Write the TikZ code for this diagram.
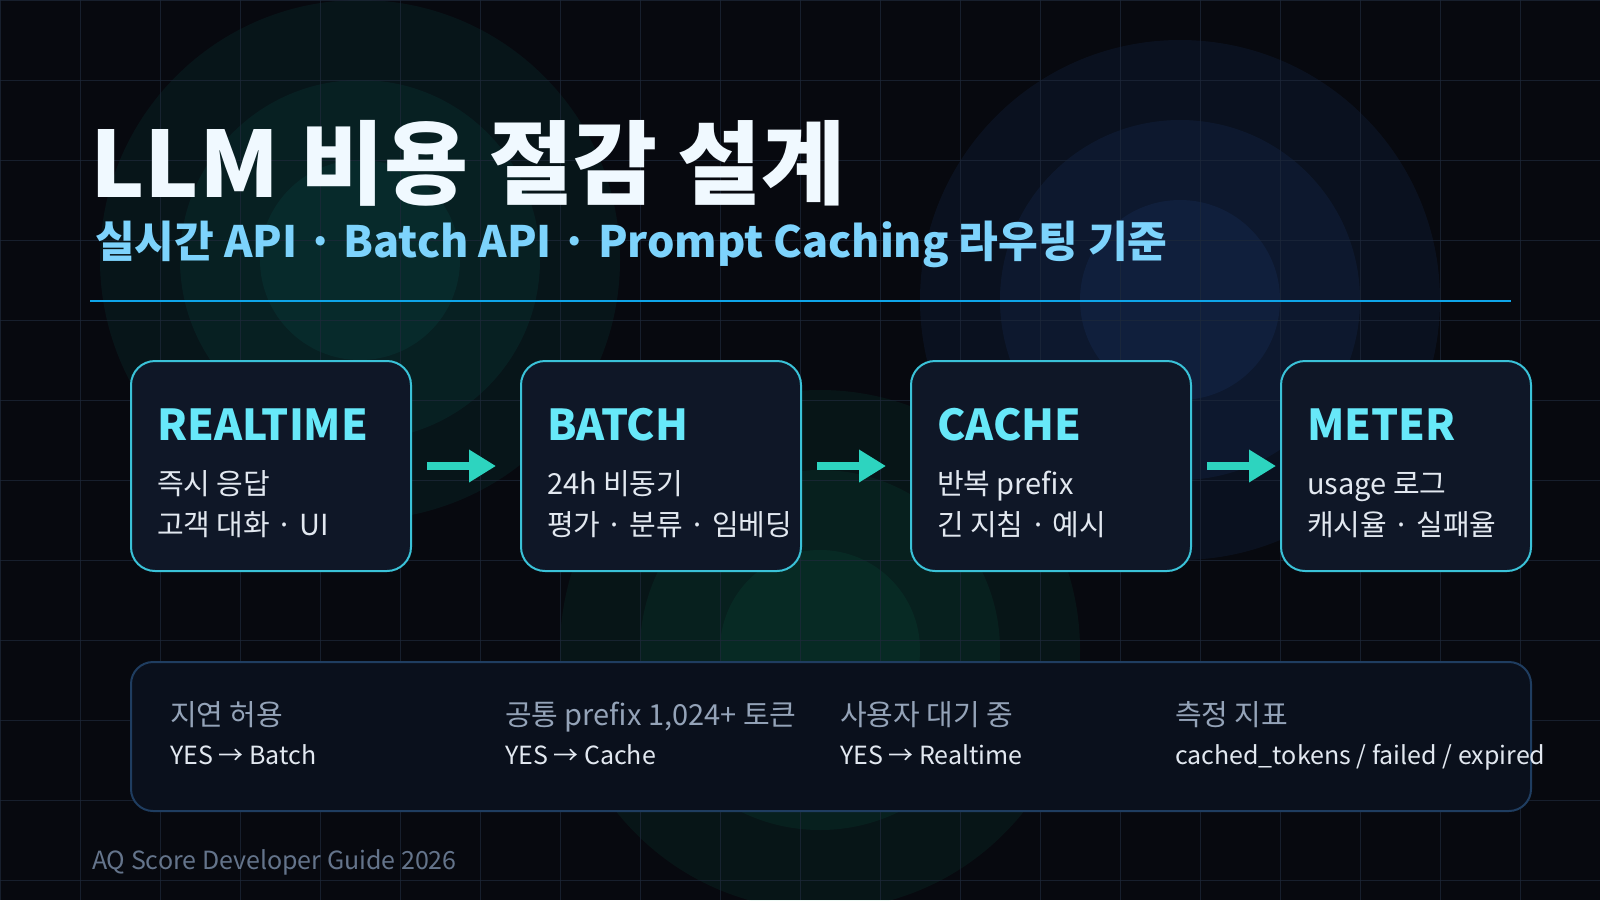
\documentclass[tikz,border=0pt]{standalone}
\usepackage{fontspec}
\setmainfont{Noto Sans CJK KR}
\usetikzlibrary{arrows.meta}
\definecolor{bg}{HTML}{07090F}
\definecolor{gridc}{HTML}{1E293B}
\definecolor{tealc}{HTML}{14B8A6}
\definecolor{greenc}{HTML}{10B981}
\definecolor{bluec}{HTML}{3B82F6}
\definecolor{titlec}{HTML}{F0F9FF}
\definecolor{subc}{HTML}{7DD3FC}
\definecolor{rulec}{HTML}{0EA5E9}
\definecolor{boxfill}{HTML}{0F1727}
\definecolor{boxline}{HTML}{3AC2D8}
\definecolor{boxtitle}{HTML}{67E8F9}
\definecolor{boxtext}{HTML}{E2E8F0}
\definecolor{arrowc}{HTML}{2DD4BF}
\definecolor{panelfill}{HTML}{0A101C}
\definecolor{panelline}{HTML}{1F3D60}
\definecolor{labelc}{HTML}{94A3B8}
\definecolor{valuec}{HTML}{E2E8F0}
\definecolor{footc}{HTML}{64748B}
\tikzset{
  glow/.style={fill=#1, fill opacity=0.07, draw=none},
  stagebox/.style={draw=boxline, line width=2pt, fill=boxfill, rounded corners=24pt,
    minimum width=280pt, minimum height=210pt, anchor=north west, inner sep=0pt},
  txt/.style={anchor=base west, inner sep=0pt, outer sep=0pt},
  stitle/.style={txt, text=boxtitle, font=\fontsize{42.6}{50}\selectfont\bfseries},
  sline/.style={txt, text=boxtext, font=\fontsize{29}{33}\selectfont},
  plabel/.style={txt, text=labelc, font=\fontsize{29}{33}\selectfont},
  pvalue/.style={txt, text=valuec, font=\fontsize{25}{30}\selectfont},
  flow/.style={draw=arrowc, line width=8pt, -{Triangle[length=27pt,width=31pt]}}
}
\begin{document}
\begin{tikzpicture}[x=1pt,y=-1pt]
\useasboundingbox (0,0) rectangle (1600,900);
\fill[bg] (0,0) rectangle (1600,900);
% glows
\foreach \r in {260,180,100} {
  \fill[glow=tealc] (360,260) circle[radius=\r pt];
  \fill[glow=greenc] (820,650) circle[radius=\r pt];
  \fill[glow=bluec] (1180,300) circle[radius=\r pt];
}
% grid
\foreach \x in {0,80,...,1600} \draw[gridc, line width=1pt, opacity=0.7] (\x,0) -- (\x,900);
\foreach \y in {0,80,...,880} \draw[gridc, line width=1pt, opacity=0.7] (0,\y) -- (1600,\y);
% title
\node[txt, text=titlec, font=\fontsize{91.3}{110}\selectfont\bfseries] (title) at (90,197) {LLM 비용 절감 설계};
\node[txt, text=subc, font=\fontsize{43.2}{50}\selectfont\bfseries] (subtitle) at (95,257) {실시간 API · Batch API · Prompt Caching 라우팅 기준};
\draw[rulec, line width=2pt] (90,301) -- (1511,301);
% stage boxes
\node[stagebox] (b1) at (130,360) {};
\node[stagebox] (b2) at (520,360) {};
\node[stagebox] (b3) at (910,360) {};
\node[stagebox, minimum width=250pt] (b4) at (1280,360) {};
\node[stitle] (t1) at (157,440) {REALTIME};
\node[sline] (l1a) at (157,494) {즉시 응답};
\node[sline] (l1b) at (157,535) {고객 대화 · UI};
\node[stitle] (t2) at (547,440) {BATCH};
\node[sline] (l2a) at (547,494) {24h 비동기};
\node[sline] (l2b) at (547,535) {평가 · 분류 · 임베딩};
\node[stitle] (t3) at (937,440) {CACHE};
\node[sline] (l3a) at (937,494) {반복 prefix};
\node[sline] (l3b) at (937,535) {긴 지침 · 예시};
\node[stitle] (t4) at (1307,440) {METER};
\node[sline] (l4a) at (1307,494) {usage 로그};
\node[sline] (l4b) at (1307,535) {캐시율 · 실패율};
% arrows
\draw[flow, shorten <=15pt, shorten >=24pt] (b1.east) -- (b2.west);
\draw[flow, shorten <=15pt, shorten >=24pt] (b2.east) -- (b3.west);
\draw[flow, shorten <=15pt, shorten >=4pt] (b3.east) -- (b4.west);
% panel
\node[draw=panelline, line width=2pt, fill=panelfill, rounded corners=22pt, anchor=north west,
  minimum width=1400pt, minimum height=149pt, inner sep=0pt] (panel) at (130,661) {};
\node[plabel] (p1l) at (170,725) {지연 허용};
\node[pvalue] (p1v) at (170,764) {YES → Batch};
\node[plabel] (p2l) at (505,725) {공통 prefix 1,024+ 토큰};
\node[pvalue] (p2v) at (505,764) {YES → Cache};
\node[plabel] (p3l) at (840,725) {사용자 대기 중};
\node[pvalue] (p3v) at (840,764) {YES → Realtime};
\node[plabel] (p4l) at (1175,725) {측정 지표};
\node[pvalue] (p4v) at (1175,764) {cached\_tokens / failed / expired};
% footer
\node[txt, text=footc, font=\fontsize{25}{30}\selectfont] (foot) at (92,869) {AQ Score Developer Guide 2026};
\end{tikzpicture}
\end{document}
